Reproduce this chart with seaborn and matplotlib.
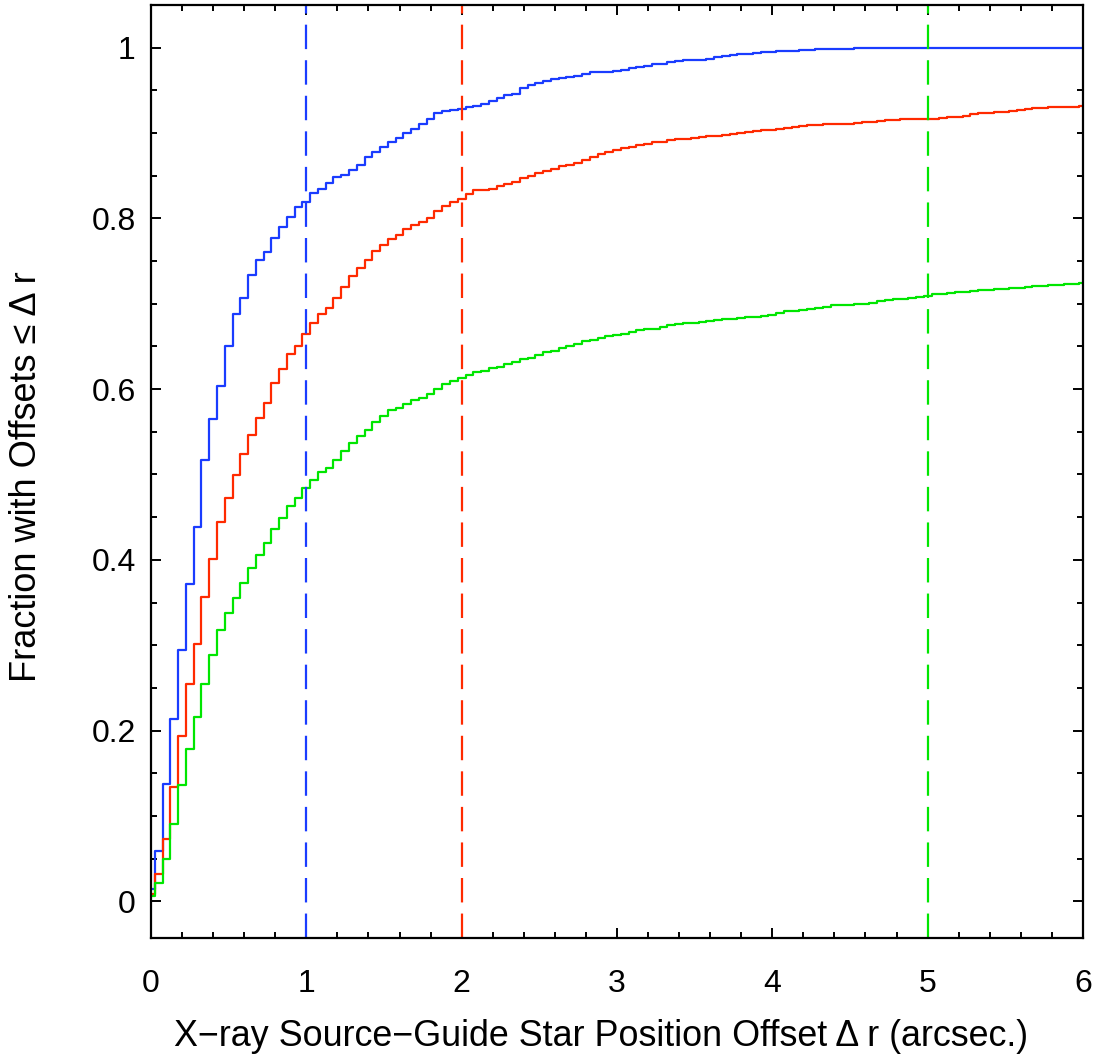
import numpy as np
import pandas as pd
import matplotlib
matplotlib.use("Agg")
import matplotlib.pyplot as plt
from matplotlib.ticker import MultipleLocator, FuncFormatter
import seaborn as sns

# bin centres of the cumulative curves (arcsec), steps every 0.05"
bin_width = 0.05
offsets = np.round(np.arange(121) * bin_width, 2)

# fraction of sources with offset <= dr, one value per bin
frac_blue = [
    0.014, 0.059, 0.138, 0.214, 0.294, 0.372, 0.439, 0.517, 0.565, 0.604,
    0.651, 0.688, 0.707, 0.734, 0.751, 0.761, 0.777, 0.790, 0.802, 0.813,
    0.819, 0.830, 0.834, 0.841, 0.848, 0.851, 0.857, 0.863, 0.872, 0.878,
    0.884, 0.889, 0.894, 0.900, 0.905, 0.910, 0.916, 0.923, 0.926, 0.927,
    0.928, 0.931, 0.932, 0.934, 0.937, 0.941, 0.944, 0.946, 0.953, 0.956,
    0.959, 0.961, 0.963, 0.964, 0.966, 0.967, 0.969, 0.971, 0.972, 0.972,
    0.973, 0.974, 0.976, 0.977, 0.979, 0.981, 0.981, 0.983, 0.984, 0.985,
    0.985, 0.986, 0.987, 0.989, 0.990, 0.991, 0.992, 0.993, 0.994, 0.995,
    0.995, 0.996, 0.996, 0.996, 0.997, 0.997, 0.998, 0.998, 0.998, 0.999,
    0.999, 1.000, 1.000, 1.000, 1.000, 1.000, 1.000, 1.000, 1.000, 1.000,
    1.000, 1.000, 1.000, 1.000, 1.000, 1.000, 1.000, 1.000, 1.000, 1.000,
    1.000, 1.000, 1.000, 1.000, 1.000, 1.000, 1.000, 1.000, 1.000, 1.000,
    1.000,
]
frac_red = [
    0.008, 0.032, 0.073, 0.134, 0.194, 0.255, 0.302, 0.357, 0.401, 0.444,
    0.472, 0.499, 0.524, 0.546, 0.566, 0.584, 0.607, 0.623, 0.641, 0.650,
    0.664, 0.677, 0.688, 0.695, 0.707, 0.720, 0.732, 0.742, 0.751, 0.762,
    0.769, 0.776, 0.781, 0.787, 0.792, 0.796, 0.801, 0.809, 0.815, 0.819,
    0.823, 0.829, 0.833, 0.833, 0.835, 0.838, 0.840, 0.843, 0.847, 0.850,
    0.853, 0.856, 0.858, 0.861, 0.863, 0.865, 0.868, 0.872, 0.876, 0.878,
    0.880, 0.882, 0.884, 0.886, 0.887, 0.889, 0.890, 0.892, 0.893, 0.893,
    0.894, 0.895, 0.896, 0.897, 0.898, 0.899, 0.900, 0.901, 0.902, 0.903,
    0.904, 0.905, 0.906, 0.907, 0.908, 0.909, 0.909, 0.910, 0.910, 0.911,
    0.911, 0.912, 0.913, 0.913, 0.914, 0.915, 0.915, 0.916, 0.916, 0.916,
    0.917, 0.917, 0.918, 0.919, 0.919, 0.920, 0.922, 0.924, 0.924, 0.925,
    0.925, 0.926, 0.927, 0.928, 0.929, 0.929, 0.930, 0.930, 0.931, 0.931,
    0.932,
]
frac_green = [
    0.006, 0.022, 0.049, 0.091, 0.136, 0.179, 0.216, 0.254, 0.288, 0.318,
    0.338, 0.355, 0.373, 0.391, 0.406, 0.420, 0.436, 0.449, 0.463, 0.473,
    0.484, 0.494, 0.503, 0.508, 0.517, 0.527, 0.537, 0.545, 0.552, 0.561,
    0.569, 0.575, 0.578, 0.583, 0.587, 0.590, 0.594, 0.600, 0.606, 0.609,
    0.613, 0.616, 0.620, 0.621, 0.625, 0.626, 0.629, 0.632, 0.635, 0.637,
    0.640, 0.643, 0.645, 0.648, 0.650, 0.653, 0.656, 0.658, 0.660, 0.662,
    0.663, 0.664, 0.667, 0.669, 0.670, 0.671, 0.673, 0.675, 0.676, 0.677,
    0.678, 0.679, 0.680, 0.681, 0.682, 0.682, 0.683, 0.684, 0.685, 0.686,
    0.687, 0.689, 0.691, 0.692, 0.693, 0.694, 0.695, 0.696, 0.698, 0.698,
    0.699, 0.700, 0.700, 0.701, 0.703, 0.704, 0.705, 0.706, 0.707, 0.708,
    0.709, 0.711, 0.712, 0.713, 0.714, 0.714, 0.715, 0.716, 0.716, 0.717,
    0.717, 0.718, 0.719, 0.720, 0.721, 0.721, 0.722, 0.722, 0.723, 0.723,
    0.724,
]

series_colors = ["#1a3cff", "#ff2a00", "#00e600"]
cut_offsets = [1, 2, 5]  # dashed reference radii, same colour order

sns.set_style("ticks")
plt.rcParams["font.family"] = ["Liberation Sans", "DejaVu Sans"]
plt.rcParams.update({
    "text.color": "black",
    "axes.labelcolor": "black",
    "axes.edgecolor": "black",
    "xtick.color": "black",
    "ytick.color": "black",
})

df = pd.DataFrame({"offset": offsets, "blue": frac_blue, "red": frac_red, "green": frac_green})

fig = plt.figure(figsize=(10.98, 10.61), dpi=100)
ax = fig.add_axes([0.1375, 0.1159, 0.8488, 0.8794])

for col, color in zip(["blue", "red", "green"], series_colors):
    sns.lineplot(data=df, x="offset", y=col, ax=ax, color=color, lw=1.6,
                 drawstyle="steps-mid", estimator=None)

for cut, color in zip(cut_offsets, series_colors):
    ax.axvline(cut, color=color, lw=1.6, linestyle=(0, (11, 5)))

ax.set_xlim(0, 6)
ax.set_ylim(-0.043, 1.05)
ax.xaxis.set_major_locator(MultipleLocator(1))
ax.xaxis.set_minor_locator(MultipleLocator(0.2))
ax.yaxis.set_major_locator(MultipleLocator(0.2))
ax.yaxis.set_minor_locator(MultipleLocator(0.05))
ax.yaxis.set_major_formatter(FuncFormatter(lambda v, p: f"{v:g}"))
ax.tick_params(which="both", direction="in", top=True, right=True, width=1.4,
               labelsize=23, colors="black")
ax.tick_params(axis="x", which="both", pad=22)
ax.tick_params(axis="y", which="both", pad=11)
ax.tick_params(which="major", length=7)
ax.tick_params(which="minor", length=4)
for sp in ax.spines.values():
    sp.set_linewidth(1.6)
    sp.set_color("black")

ax.set_xlabel("X\u2212ray Source\u2212Guide Star Position Offset \u0394 r (arcsec.)", fontsize=25.8)
ax.set_ylabel("Fraction with Offsets \u2264 \u0394 r", fontsize=26)
ax.xaxis.set_label_coords(0.483, -0.087)
ax.yaxis.set_label_coords(-0.115, 0.495)

fig.savefig("out.png", dpi=100)
